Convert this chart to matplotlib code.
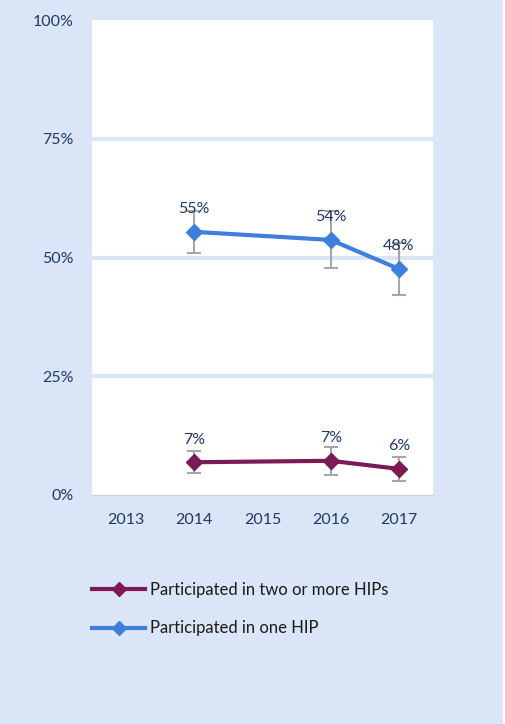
import numpy as np
import matplotlib.pyplot as plt
from matplotlib.lines import Line2D

# data
years = ['2013', '2014', '2015', '2016', '2017']
one_x = [1, 3, 4]
one_hip = [55.4, 53.7, 47.6]
one_err = [4.4, 6.0, 5.5]
one_lbl = ['55%', '54%', '48%']
two_x = [1, 3, 4]
two_hip = [6.9, 7.2, 5.5]
two_err = [2.3, 3.0, 2.6]
two_lbl = ['7%', '7%', '6%']

bg = '#DAE6F8'
txt = '#1F3864'
blue = '#3F7FDC'
purple = '#7B1A55'

plt.rcParams['font.family'] = ['Lato', 'DejaVu Sans']

fig = plt.figure(figsize=(5.06, 7.24), dpi=100, facecolor='white')
fig.patches.append(plt.Rectangle((0, 0), 503 / 506, 1, transform=fig.transFigure,
                                 facecolor=bg, edgecolor='none', zorder=-10))
ax = fig.add_axes([92 / 506, 1 - 495 / 724, 341 / 506, 475 / 724])
ax.set_facecolor('white')

for y in [25, 50, 75]:
    ax.axhline(y, color=bg, lw=3, zorder=1)

ax.errorbar(two_x, two_hip, yerr=two_err, color=purple, lw=3, marker='D', ms=8,
            ecolor='#A6A6A6', elinewidth=1.5, capsize=5, capthick=1.5, zorder=3)
ax.errorbar(one_x, one_hip, yerr=one_err, color=blue, lw=3, marker='D', ms=8,
            ecolor='#A6A6A6', elinewidth=1.5, capsize=5, capthick=1.5, zorder=3)

for x, v, s in zip(one_x, one_hip, one_lbl):
    ax.text(x, v + 3.3, s, ha='center', va='bottom', color=txt, fontsize=11.5, zorder=4)
for x, v, s in zip(two_x, two_hip, two_lbl):
    ax.text(x, v + 3.3, s, ha='center', va='bottom', color=txt, fontsize=11.5, zorder=4)

ax.set_xlim(-0.5, 4.5)
ax.set_ylim(0, 100)
ax.set_xticks(range(len(years)))
ax.set_xticklabels(years)
ax.set_yticks([0, 25, 50, 75, 100])
ax.set_yticklabels(['0%', '25%', '50%', '75%', '100%'])
ax.tick_params(length=0, colors=txt, labelsize=11.5)
ax.tick_params(axis='x', pad=13)
ax.tick_params(axis='y', pad=13)
for sp in ['top', 'left', 'right']:
    ax.spines[sp].set_visible(False)
ax.spines['bottom'].set_color('#D0D0D0')

handles = [Line2D([], [], color=purple, lw=3, marker='D', ms=7),
           Line2D([], [], color=blue, lw=3, marker='D', ms=7)]
labels = ['Participated in two or more HIPs', 'Participated in one HIP']
fig.legend(handles, labels, loc='upper left', bbox_to_anchor=(77 / 506, 1 - 567 / 724),
           frameon=False, fontsize=12, handlelength=3.2, handletextpad=0.3,
           labelspacing=1.35, labelcolor='#1a1a1a')

fig.savefig('out.png', dpi=100, facecolor=fig.get_facecolor())
